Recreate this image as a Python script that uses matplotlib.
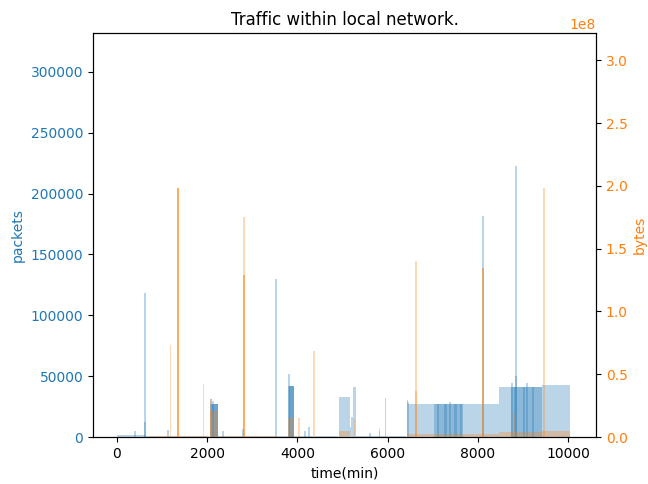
import matplotlib
matplotlib.use("Agg")
import matplotlib.pyplot as plt

# traffic sessions: start (min), duration (min), value
pk_start = [0, 380, 600, 600, 650, 1110,
            2060, 2090, 2110, 2060, 2110, 2240, 2330, 2780,
            3515, 3540, 3800, 3800, 3810, 3820, 4150, 4240, 4400,
            4920, 5170, 5200, 5240, 5300, 5590, 5800, 5940,
            6420, 6440, 6460, 6590, 6700, 6850, 6940,
            7030, 7160, 7300, 7420, 7550, 7690, 7830, 7950, 8120, 8250, 8360,
            7040, 7200, 7330, 7460, 7100, 7260, 7480, 7600, 7370, 8100,
            8470, 8590, 8700, 8735, 8860, 8990, 9120, 9250, 9340,
            8735, 8880, 9030, 9180, 8800, 9000, 9200, 8740, 9080, 8830, 8830,
            9430, 9560, 9680, 9810, 9930]
pk_dur = [650, 36, 36, 36, 1400, 36,
          180, 150, 130, 36, 36, 1300, 36, 36,
          36, 800, 36, 120, 110, 100, 36, 36, 500,
          250, 30, 40, 60, 1100, 36, 36, 36,
          36, 36, 130, 110, 150, 90, 90,
          130, 140, 120, 130, 140, 140, 120, 170, 130, 110, 110,
          160, 130, 130, 220, 40, 60, 60, 40, 36, 36,
          120, 110, 35, 125, 130, 130, 130, 90, 90,
          145, 150, 150, 250, 30, 40, 40, 36, 36, 36, 36,
          130, 120, 130, 120, 120]
pk_val = [1500, 5000, 118000, 12000, 900, 6000,
          26900, 26900, 26900, 31500, 29500, 1100, 5200, 6800,
          130000, 1100, 52000, 41800, 41800, 41800, 4700, 8000, 600,
          32600, 8000, 16700, 40800, 800, 3500, 5000, 31800,
          30400, 28800, 27000, 27000, 27000, 27000, 27000,
          27000, 27000, 27000, 27000, 27000, 27000, 27000, 27000, 27000, 27000, 27000,
          27000, 27000, 27000, 27000, 27000, 27000, 27000, 27000, 29000, 182000,
          41300, 41300, 41300, 41300, 41300, 41300, 41300, 41300, 41300,
          41300, 41300, 41300, 41300, 41300, 41300, 41300, 44100, 44100, 222700, 50000,
          42700, 42700, 42700, 42700, 42700]

by_start = [700, 1170, 1335, 1335, 1335, 1900, 2060, 2060, 2240,
            2795, 2795, 2795, 3800, 4020, 4350, 4920, 5250, 5800,
            6420, 6610, 6610, 8100, 8100, 8470, 8780, 9430, 9450]
by_dur = [1340, 36, 36, 36, 36, 36, 180, 36, 1300,
          36, 36, 36, 120, 36, 36, 250, 36, 36,
          2050, 36, 36, 36, 36, 960, 36, 620, 36]
by_val = [1.0e6, 7.3e7, 1.98e8, 1.98e8, 1.98e8, 4.2e7, 2.1e7, 3.0e7, 1.0e6,
          1.75e8, 1.29e8, 1.29e8, 1.5e7, 1.5e7, 6.85e7, 5.0e6, 1.4e7, 7.0e6,
          2.2e6, 1.4e8, 3.7e7, 1.35e8, 1.35e8, 4.0e6, 1.9e7, 4.5e6, 1.98e8]

fig = plt.figure(figsize=(6.48, 4.84), dpi=100)
ax1 = fig.add_axes([0.1435, 0.0971, 0.7762, 0.8347])
ax1.bar(pk_start, pk_val, width=pk_dur, align="edge", color="tab:blue", alpha=0.3, linewidth=0)
ax1.set_xlim(-532, 10621)
ax1.set_ylim(0, 332000)
ax1.set_xlabel("time(min)")
ax1.set_ylabel("packets", color="tab:blue")
ax1.tick_params(axis="y", labelcolor="tab:blue")

ax2 = ax1.twinx()
ax2.bar(by_start, by_val, width=by_dur, align="edge", color="tab:orange", alpha=0.3, linewidth=0)
ax2.set_ylim(0, 3.218e8)
ax2.set_ylabel("bytes", color="tab:orange")
ax2.tick_params(axis="y", labelcolor="tab:orange")
ax2.yaxis.get_offset_text().set_color("tab:orange")

ax1.set_title("Traffic within local network.")
fig.savefig("out.png", dpi=100)
